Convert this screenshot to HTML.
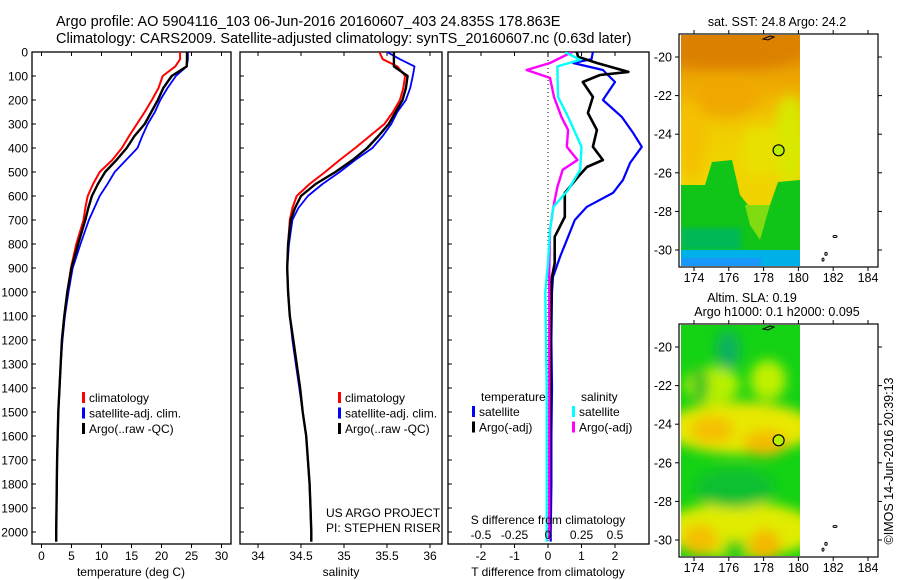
<!DOCTYPE html>
<html><head><meta charset="utf-8">
<style>
html,body{margin:0;padding:0;background:#fff;}
svg{display:block;font-family:"Liberation Sans",sans-serif;}
text{fill:#000;}
</style></head>
<body>
<svg id="fig" width="900" height="580" viewBox="0 0 900 580" xmlns="http://www.w3.org/2000/svg">
<defs>
<filter id="blur6" x="-50%" y="-50%" width="200%" height="200%"><feGaussianBlur stdDeviation="6"/></filter>
<filter id="blur3"><feGaussianBlur stdDeviation="3"/></filter>
<clipPath id="clipM1"><rect x="681" y="35" width="119" height="231"/></clipPath>
<clipPath id="clipM2"><rect x="681" y="325" width="119" height="231"/></clipPath>
<clipPath id="clipP1"><rect x="32" y="52" width="199" height="492"/></clipPath>
<clipPath id="clipP2"><rect x="240" y="52" width="202" height="492"/></clipPath>
<clipPath id="clipP3"><rect x="448" y="52" width="201" height="492"/></clipPath>
<linearGradient id="gSST" x1="0" y1="0" x2="0" y2="1">
<stop offset="0" stop-color="#e08800"/><stop offset="0.45" stop-color="#f0b000"/><stop offset="1" stop-color="#f0d000" stop-opacity="0"/>
</linearGradient>
</defs>
<text x="56" y="26" font-size="14.5">Argo profile: AO 5904116_103 06-Jun-2016 20160607_403 24.835S 178.863E</text>
<text x="56" y="43" font-size="14.5">Climatology: CARS2009. Satellite-adjusted climatology: synTS_20160607.nc (0.63d later)</text>

<g id="p1"></g>
<g id="p2"></g>
<g id="p3"></g>

<g>
<text x="777" y="26" font-size="12.5" text-anchor="middle">sat. SST: 24.8 Argo: 24.2</text>
<g clip-path="url(#clipM1)">
<rect x="681" y="35" width="119" height="231" fill="#f0d400"/>
<rect x="681" y="35" width="119" height="130" fill="url(#gSST)"/>
<g filter="url(#blur6)">
<ellipse cx="730" cy="48" rx="80" ry="22" fill="#dc8000"/>
<ellipse cx="725" cy="95" rx="35" ry="22" fill="#f0a800"/>
<ellipse cx="692" cy="140" rx="14" ry="40" fill="#f4c000"/>
<ellipse cx="790" cy="140" rx="16" ry="45" fill="#d8e800"/>
<ellipse cx="760" cy="150" rx="20" ry="25" fill="#e8e000"/>
</g>
<path d="M681,185 L705,185 L712,162 L732,160 L740,195 L752,210 L770,205 L778,182 L800,180 L800,266 L681,266 Z" fill="#10c418"/>
<path d="M745,205 L770,205 L760,240 L750,225 Z" fill="#80dc10"/>
<rect x="681" y="228" width="60" height="22" fill="#00b858" filter="url(#blur3)"/>
<rect x="681" y="250" width="119" height="16" fill="#00b0e8"/>
<rect x="681" y="258" width="80" height="8" fill="#1898f8"/>
</g>
</g>
<g>
<text x="752" y="302" font-size="12.5" text-anchor="middle">Altim. SLA: 0.19</text>
<text x="777" y="316" font-size="12.5" text-anchor="middle">Argo h1000: 0.1 h2000: 0.095</text>
<g clip-path="url(#clipM2)">
<rect x="681" y="325" width="119" height="231" fill="#14d214"/>
<g filter="url(#blur6)">
<ellipse cx="712" cy="385" rx="28" ry="18" fill="#b8f000"/>
<ellipse cx="768" cy="380" rx="18" ry="20" fill="#c0f000"/>
<ellipse cx="740" cy="428" rx="75" ry="26" fill="#e8e800"/>
<ellipse cx="712" cy="430" rx="22" ry="14" fill="#f4c000"/>
<ellipse cx="765" cy="443" rx="22" ry="13" fill="#f4bc00"/>
<ellipse cx="728" cy="350" rx="12" ry="20" fill="#10b060"/>
<ellipse cx="700" cy="385" rx="8" ry="18" fill="#20c020"/>
<ellipse cx="740" cy="530" rx="78" ry="28" fill="#e0ec00"/>
<ellipse cx="700" cy="540" rx="18" ry="16" fill="#f4c000"/>
<ellipse cx="765" cy="545" rx="16" ry="16" fill="#f4b800"/>
<ellipse cx="735" cy="550" rx="12" ry="10" fill="#14cc14"/>
<ellipse cx="735" cy="488" rx="40" ry="20" fill="#10c030"/>
</g>
</g>
</g>
<text transform="translate(893,461) rotate(-90)" font-size="12.5" text-anchor="middle">©IMOS 14-Jun-2016 20:39:13</text>
</svg>
<script>
const depthTS = [0,30,60,100,150,200,250,300,350,400,450,500,550,600,650,700,800,900,1000,1100,1200,1300,1400,1500,1600,1700,1800,1900,2000,2040];
const climT = [23.1,23.1,22.3,20.2,19.5,18.4,17.2,15.9,14.6,13.4,11.8,9.7,8.6,7.7,7.3,7.0,5.8,4.9,4.3,3.8,3.4,3.2,3.0,2.8,2.7,2.6,2.55,2.5,2.45,2.45];
const satT = [24.4,24.4,24.2,22.4,21,19.8,18.9,17.7,16.8,16.0,14.1,12.2,11,9.7,8.8,7.9,6.5,5.2,4.5,3.9,3.5,3.2,3.0,2.8,2.7,2.6,2.55,2.5,2.45,2.4];
const argoT = [24.25,24.25,24.2,21.7,20.3,19.4,18.3,17.2,15.5,14.2,12.5,10.6,9.4,8.4,7.8,7.3,6.1,5.0,4.3,3.8,3.4,3.2,3.0,2.8,2.7,2.6,2.55,2.5,2.45,2.45];
const climS = [35.41,35.45,35.62,35.71,35.69,35.65,35.57,35.47,35.3,35.13,34.95,34.78,34.6,34.45,34.4,34.37,34.35,34.34,34.35,34.37,34.41,34.45,34.49,34.52,34.56,34.58,34.6,34.61,34.62,34.62];
const satS = [35.5,35.65,35.82,35.8,35.77,35.72,35.62,35.55,35.45,35.33,35.13,34.95,34.75,34.58,34.47,34.4,34.36,34.34,34.35,34.37,34.4,34.44,34.48,34.52,34.56,34.58,34.6,34.61,34.62,34.62];
const argoS = [35.58,35.58,35.58,35.74,35.72,35.68,35.6,35.52,35.4,35.27,35.1,34.9,34.67,34.5,34.43,34.38,34.35,34.34,34.35,34.37,34.41,34.45,34.49,34.52,34.56,34.58,34.6,34.61,34.62,34.62];
const satDTdepth = [0,30,46,75,125,200,270,337,395,462,533,587,645,700,770,853,937,1000,1200,1400,1600,1800,2000,2040];
const satDT = [1.34,1.3,0.75,1.64,2.0,1.64,2.2,2.54,2.8,2.45,2.24,1.94,1.16,0.8,0.6,0.36,0.15,0.12,0.1,0.12,0.1,0.1,0.08,0.08];
const argoDTdepth = [0,20,46,83,96,125,187,254,325,395,450,479,520,587,687,770,880,937,1000,1200,1400,1600,1800,2000,2020];
const argoDT = [0.86,0.9,1.46,2.4,1.55,1.04,1.34,1.19,1.46,1.34,1.64,1.16,0.9,0.5,0.5,0.2,0.2,0.12,0.1,0.08,0.08,0.06,0.05,0.05,0.05];
const satDSdepth = [0,33,60,187,270,395,491,575,645,741,880,1000,1200,1400,1600,1800,2000,2040];
const satDS = [0.127,0.24,0.07,0.075,0.15,0.25,0.24,0.15,0.04,0.015,0,-0.02,-0.015,-0.01,-0.01,-0.01,-0.01,-0.01];
const argoDSdepth = [0,46,75,108,187,270,325,395,450,491,562,645,741,900,1200,1600,2000,2030];
const argoDS = [0.18,0.015,-0.16,0.015,0.045,0.1,0.15,0.14,0.22,0.11,0.07,0.04,0.015,0.01,0.01,0.01,0.01,0.01];
const depthTicks = [0,100,200,300,400,500,600,700,800,900,1000,1100,1200,1300,1400,1500,1600,1700,1800,1900,2000];
const tTicks = [0,5,10,15,20,25,30];
const sTicks = [34,34.5,35,35.5,36];
const dTTicks = [-2,-1,0,1,2];
const dSTicks = [-0.5,-0.25,0,0.25,0.5];
const dSTickLabels = ["-0.5","-0.25","0","0.25","0.5"];
const lonTicks = [174,176,178,180,182,184];
const latTicks = [-20,-22,-24,-26,-28,-30];
const argoLon = 178.863, argoLat = -24.835;

const yD = d => 52 + d*0.24;
const xT = v => 41.5 + v*6;
const xS = v => 258 + (v-34)*86;
const xDT = v => 548 + v*33.5;
const xDS = v => 548 + v*134;
const xLon = v => 694 + (v-174)*17.4;
const yLat = (v,off) => 57 + (-20-v)*19.3 + off;

const NS = "http://www.w3.org/2000/svg";
const svg = document.getElementById('fig');
function mk(tag, attrs, parent){
  const e = document.createElementNS(NS, tag);
  for (const k in attrs) e.setAttribute(k, attrs[k]);
  (parent||svg).appendChild(e);
  return e;
}
function txt(str, x, y, size, anchor, parent){
  const t = mk('text', {x:x, y:y, 'font-size':size, 'text-anchor':anchor||'start'}, parent);
  t.textContent = str;
  return t;
}
function line(vals, depths, xf, color, w, parent, clip){
  const pts = vals.map((v,i)=> xf(v).toFixed(1)+','+yD(depths[i]).toFixed(1)).join(' ');
  return mk('polyline', {points:pts, fill:'none', stroke:color, 'stroke-width':w, 'stroke-linejoin':'round', 'clip-path':'url(#'+clip+')'}, parent);
}
function frame(x0,x1,parent){
  mk('rect',{x:x0,y:52,width:x1-x0,height:492,fill:'none',stroke:'#000','stroke-width':1.3},parent);
  depthTicks.forEach(d=>{ mk('line',{x1:x0,x2:x0+4,y1:yD(d),y2:yD(d),stroke:'#000'},parent); });
}
function legend(items, x, y, parent){
  items.forEach((it,i)=>{
    const yy = y + i*15.5;
    const m = mk('rect',{x:x,y:yy-10,width:3,height:11,fill:it[1]},parent);
    
    
    const t = txt(it[0], x+7, yy, 12, 'start', parent);
    
    
  });
}

const p1 = document.getElementById('p1');
frame(32,231,p1);
depthTicks.forEach(d=>{
  const t = txt(String(d), 28, yD(d)+4.5, 12, 'end', p1);
  
  
});
tTicks.forEach(v=>{
  mk('line',{x1:xT(v),x2:xT(v),y1:544,y2:548,stroke:'#000'},p1);
  mk('line',{x1:xT(v),x2:xT(v),y1:52,y2:56,stroke:'#000'},p1);
  const t = txt(String(v), xT(v), 560, 12, 'middle', p1);
  
  
});
const at1 = txt('temperature (deg C)', 131, 576, 12, 'middle', p1);


let s;
s = line(climT, depthTS, xT, '#ff0000', 2, p1, 'clipP1');


s = line(satT, depthTS, xT, '#0000ff', 1.8, p1, 'clipP1');


s = line(argoT, depthTS, xT, '#000000', 2.4, p1, 'clipP1');


legend([['climatology','#ff0000'],['satellite-adj. clim.','#0000ff'],['Argo(..raw -QC)','#000000']], 82, 402, p1);

const p2 = document.getElementById('p2');
frame(240,442,p2);
sTicks.forEach(v=>{
  mk('line',{x1:xS(v),x2:xS(v),y1:544,y2:548,stroke:'#000'},p2);
  mk('line',{x1:xS(v),x2:xS(v),y1:52,y2:56,stroke:'#000'},p2);
  const t = txt(String(v), xS(v), 560, 12, 'middle', p2);
  
  
});
const at2 = txt('salinity', 341, 576, 12, 'middle', p2);


s = line(climS, depthTS, xS, '#ff0000', 2, p2, 'clipP2');


s = line(satS, depthTS, xS, '#0000ff', 1.8, p2, 'clipP2');


s = line(argoS, depthTS, xS, '#000000', 2.4, p2, 'clipP2');


legend([['climatology','#ff0000'],['satellite-adj. clim.','#0000ff'],['Argo(..raw -QC)','#000000']], 338, 402, p2);
const pr1 = txt('US ARGO PROJECT', 326, 517, 12, 'start', p2);


const pr2 = txt('PI: STEPHEN RISER', 326, 532, 12, 'start', p2);



const p3 = document.getElementById('p3');
frame(448,649,p3);
mk('line',{x1:548,x2:548,y1:52,y2:544,stroke:'#000','stroke-dasharray':'1,3'},p3);
dTTicks.forEach(v=>{
  mk('line',{x1:xDT(v),x2:xDT(v),y1:544,y2:548,stroke:'#000'},p3);
  mk('line',{x1:xDT(v),x2:xDT(v),y1:52,y2:56,stroke:'#000'},p3);
  const t = txt(String(v), xDT(v), 560, 12, 'middle', p3);
  
  
});
s = line(satDT, satDTdepth, xDT, '#0000ff', 2.2, p3, 'clipP3');


s = line(argoDT, argoDTdepth, xDT, '#000000', 2.6, p3, 'clipP3');


s = line(argoDS, argoDSdepth, xDS, '#ff00ff', 2.4, p3, 'clipP3');


s = line(satDS, satDSdepth, xDS, '#00ffff', 2.4, p3, 'clipP3');


dSTicks.forEach((v,i)=>{
  const t = txt(dSTickLabels[i], xDS(v), 539, 12, 'middle', p3);
  
  
});
const at3 = txt('S difference from climatology', 548, 524, 12, 'middle', p3);


const at4 = txt('T difference from climatology', 548, 576, 12, 'middle', p3);


const lt = txt('temperature', 481, 401, 12, 'start', p3);


const ls = txt('salinity', 581, 401, 12, 'start', p3);


legend([['satellite','#0000ff'],['Argo(-adj)','#000000']], 472, 416, p3);
legend([['satellite','#00ffff'],['Argo(-adj)','#ff00ff']], 572, 416, p3);

[0,290].forEach(off=>{
  const g = mk('g',{});
  
  
  mk('rect',{x:679,y:34+off,width:199,height:233,fill:'none',stroke:'#000','stroke-width':1.2},g);
  lonTicks.forEach(v=>{
    mk('line',{x1:xLon(v),x2:xLon(v),y1:267+off,y2:271+off,stroke:'#000'},g);
    mk('line',{x1:xLon(v),x2:xLon(v),y1:30+off,y2:34+off,stroke:'#000'},g);
    const t = txt(String(v), xLon(v), 282+off, 12.5, 'middle', g);
    
    
  });
  latTicks.forEach(v=>{
    mk('line',{x1:675,x2:679,y1:yLat(v,off),y2:yLat(v,off),stroke:'#000'},g);
    mk('line',{x1:878,x2:882,y1:yLat(v,off),y2:yLat(v,off),stroke:'#000'},g);
    const t = txt(String(v), 672, yLat(v,off)+4.5, 12.5, 'end', g);
    
    
  });
  mk('path',{d:`M763,${39+off} L770,${36+off} L774,${37+off} L768,${40+off} Z`,fill:'none',stroke:'#000','stroke-width':1},g);
  mk('ellipse',{cx:835,cy:yLat(-29.3,off),rx:2,ry:1,fill:'none',stroke:'#000'},g);
  mk('ellipse',{cx:826,cy:yLat(-30.2,off),rx:1.2,ry:1.5,fill:'none',stroke:'#000'},g);
  mk('ellipse',{cx:823,cy:yLat(-30.5,off),rx:1,ry:1.5,fill:'none',stroke:'#000'},g);
  const c = mk('circle',{cx:xLon(argoLon),cy:yLat(argoLat,off),r:5.5,fill:'#b8f000',stroke:'#000','stroke-width':1.2},g);
  
  
});
</script>
</body></html>
